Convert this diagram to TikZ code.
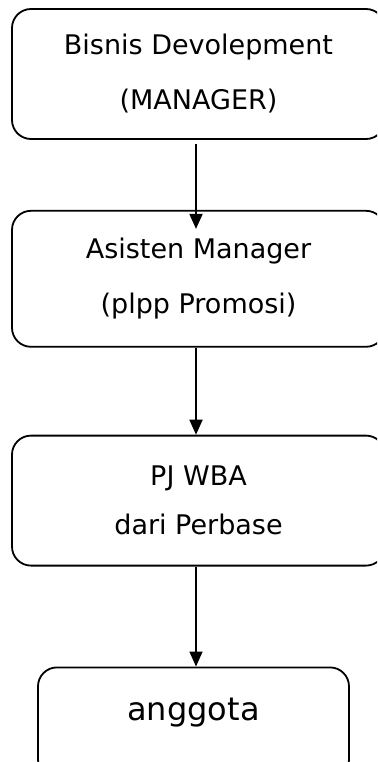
\documentclass[tikz,border=0pt]{standalone}
\usepackage{fontspec}
\setmainfont{DejaVu Sans}
\usetikzlibrary{arrows.meta, positioning}

\begin{document}
\begin{tikzpicture}[
    node distance=70pt,
    box/.style={draw, line width=1.8pt, rounded corners=19pt, align=center, minimum width=373pt, minimum height=130pt, inner sep=0pt, font=\fontsize{27pt}{55pt}\selectfont},
    arrow/.style={-{Triangle[width=13pt,length=15pt]}, line width=1.8pt}
]
    \useasboundingbox (0,0) rectangle (377pt,-762pt);
    \clip (0,0) rectangle (377pt,-762pt);
    \fill[white] (0,0) rectangle (377pt,-762pt);

    % Hierarchy boxes
    \node[box] (bisnis) at (198.5pt,-74pt) {Bisnis Devolepment\\(MANAGER)};
    \node[box, below=70pt of bisnis, minimum height=136pt] (asisten) {Asisten Manager\\(plpp Promosi)};
    \node[box, below=87pt of asisten, font=\fontsize{27pt}{49pt}\selectfont] (pjwba) {PJ WBA\\dari Perbase};
    \node[box, below=100pt of pjwba, xshift=-5pt, minimum width=311pt, minimum height=0pt, text height=45pt, text depth=50pt, inner ysep=8pt, font=\fontsize{32pt}{38pt}\selectfont] (anggota) {anggota};

    % Connections
    \draw[arrow] ([xshift=-2.5pt,yshift=-4pt]bisnis.south) -- ([xshift=-2.5pt,yshift=-19pt]asisten.north);
    \draw[arrow] ([xshift=-2.5pt]asisten.south) -- ([xshift=-2.5pt]pjwba.north);
    \draw[arrow] ([xshift=-2.5pt]pjwba.south) -- ([xshift=-2.5pt]pjwba.south |- anggota.north);

\end{tikzpicture}
\end{document}
